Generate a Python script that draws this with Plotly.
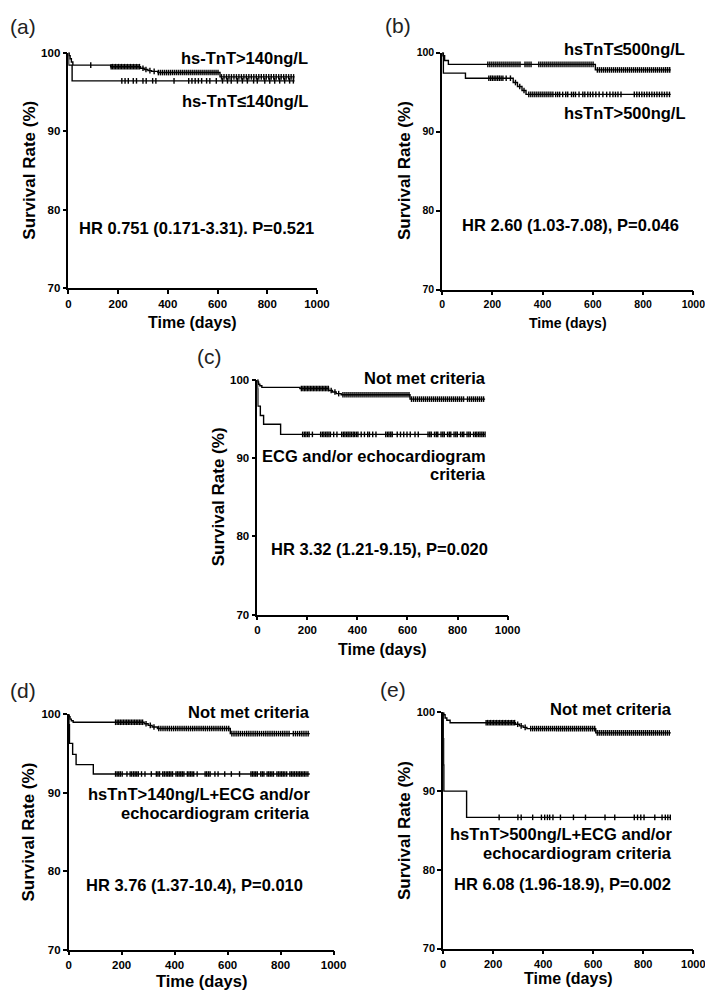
import plotly.graph_objects as go

FONT = "Liberation Sans, Arial, sans-serif"
W, H = 713, 992
FOLLOW_UP_END = 910

# ---- (a) hs-TnT >140 vs <=140 ng/L ----
A_HI_T = [0, 3, 7, 12, 18, 170, 290, 305, 320, 335, 360, 610]
A_HI_S = [100, 99.6, 99.2, 98.8, 98.4, 98.2, 98.0, 97.85, 97.7, 97.6, 97.45, 96.9]
A_HI_CENS = [90, 172, 178, 184, 190, 196, 202, 208, 214, 220, 226, 232, 238, 244, 250, 256,
             262, 268, 274, 280, 286, 300, 312, 328, 345, 362, 370, 378, 386, 394, 402, 410,
             418, 426, 434, 442, 450, 458, 466, 474, 482, 490, 498, 506, 514, 522, 530, 538,
             546, 554, 562, 570, 578, 586, 594, 602, 616, 626, 636, 646, 656, 666, 676, 686,
             696, 706, 716, 726, 736, 746, 756, 766, 776, 786, 796, 806, 816, 826, 836, 846,
             856, 866, 876, 886, 896, 906]
A_LO_T = [0, 1, 15]
A_LO_S = [100, 98.4, 96.4]
A_LO_CENS = [215, 228, 241, 261, 274, 300, 313, 339, 352, 425, 484, 497, 510, 523, 536, 556,
             569, 595, 620, 640, 655, 680, 700, 720, 745, 760, 790, 810, 830, 850, 870, 890, 905]

# ---- (b) hsTnT <=500 vs >500 ng/L ----
B_LO_T = [0, 3, 10, 25, 610]
B_LO_S = [100, 99.6, 99.0, 98.5, 97.8]
B_LO_CENS = [182, 190, 198, 206, 214, 222, 230, 238, 246, 254, 262, 270, 278, 286, 294, 302,
             310, 330, 338, 346, 354, 385, 393, 401, 409, 417, 425, 433, 441, 449, 457, 465,
             473, 481, 489, 497, 505, 513, 521, 529, 537, 545, 553, 561, 569, 577, 585, 593,
             601, 618, 626, 634, 642, 650, 658, 666, 674, 682, 690, 698, 706, 714, 722, 730,
             738, 746, 754, 762, 770, 778, 786, 794, 802, 810, 818, 826, 834, 842, 850, 858,
             866, 874, 882, 890, 898, 906]
B_HI_T = [0, 5, 93, 283, 300, 318, 334]
B_HI_S = [100, 97.4, 96.75, 96.2, 95.7, 95.2, 94.7]
B_HI_CENS = [186, 193, 200, 207, 214, 221, 228, 235, 242, 255, 272, 292, 309, 326, 345, 353,
             361, 369, 377, 385, 393, 401, 409, 417, 425, 433, 441, 452, 460, 468, 480, 492,
             500, 515, 523, 531, 545, 560, 568, 580, 590, 600, 612, 625, 640, 655, 668, 680,
             690, 700, 712, 765, 775, 785, 795, 805, 815, 825, 835, 845, 855, 865, 875, 885,
             895, 905]

# ---- (c) ECG and/or echocardiogram criteria ----
C_NOT_T = [0, 2, 5, 10, 18, 170, 285, 300, 315, 335, 610]
C_NOT_S = [100, 99.7, 99.4, 99.2, 99.0, 98.85, 98.6, 98.4, 98.2, 98.05, 97.5]
C_NOT_CENS = [176, 182, 188, 194, 200, 206, 212, 218, 224, 230, 236, 242, 248, 254, 260, 266,
              272, 278, 284, 295, 310, 325, 342, 350, 358, 366, 374, 382, 390, 398, 406, 414,
              422, 430, 438, 446, 454, 462, 470, 478, 486, 494, 502, 510, 518, 526, 534, 542,
              550, 558, 566, 574, 582, 590, 598, 606, 616, 624, 632, 640, 648, 656, 664, 672,
              680, 688, 696, 704, 712, 720, 728, 736, 744, 752, 760, 768, 776, 784, 792, 800,
              808, 816, 824, 840, 848, 856, 864, 872, 880, 888, 896, 904]
C_ECG_T = [0, 1, 2, 12, 25, 93]
C_ECG_S = [100, 98.8, 96.6, 95.4, 94.3, 93.0]
C_ECG_CENS = [181, 188, 194, 201, 207, 220, 253, 260, 266, 273, 279, 286, 292, 305, 318, 337,
              344, 350, 357, 363, 370, 376, 383, 389, 396, 402, 415, 428, 441, 448, 461, 474,
              513, 520, 526, 533, 539, 559, 572, 585, 598, 611, 630, 643, 682, 689, 695, 708,
              715, 721, 734, 741, 747, 760, 767, 773, 786, 793, 799, 812, 819, 825, 838, 845,
              851, 864, 871, 877, 884, 890, 897, 903, 910]

# ---- (d) hsTnT>140 + ECG and/or echo criteria ----
D_NOT_T = [0, 2, 5, 10, 17, 285, 300, 315, 335, 610]
D_NOT_S = [100, 99.7, 99.4, 99.2, 99.0, 98.8, 98.6, 98.4, 98.2, 97.55]
D_NOT_CENS = [177, 183, 189, 195, 201, 207, 213, 219, 225, 231, 237, 243, 249, 255, 261, 267,
              273, 279, 292, 308, 322, 340, 348, 356, 364, 372, 380, 388, 396, 404, 412, 420,
              428, 436, 444, 452, 460, 468, 476, 484, 492, 500, 508, 516, 524, 532, 540, 548,
              556, 564, 572, 580, 588, 596, 604, 616, 624, 632, 640, 648, 656, 664, 672, 680,
              688, 696, 704, 712, 720, 728, 736, 744, 752, 760, 768, 776, 784, 792, 800, 808,
              816, 824, 832, 848, 856, 864, 872, 880, 888, 896, 904]
D_HI_T = [0, 1, 3, 15, 28, 93]
D_HI_S = [100, 98.7, 96.3, 94.9, 93.6, 92.4]
D_HI_CENS = [177, 183, 189, 195, 202, 220, 232, 238, 245, 251, 257, 263, 275, 288, 312, 331,
             337, 343, 355, 361, 368, 374, 380, 386, 392, 405, 411, 417, 423, 429, 435, 448,
             454, 460, 466, 472, 485, 515, 521, 528, 534, 552, 564, 589, 614, 645, 688, 694,
             700, 706, 712, 725, 731, 737, 749, 755, 761, 767, 773, 786, 792, 798, 804, 810,
             816, 823, 835, 841, 847, 853, 860, 866, 872, 878, 884, 890, 896, 903]

# ---- (e) hsTnT>500 + ECG and/or echo criteria ----
E_NOT_T = [0, 3, 8, 15, 28, 289, 305, 320, 335, 610]
E_NOT_S = [100, 99.7, 99.3, 99.0, 98.7, 98.5, 98.3, 98.1, 97.95, 97.4]
E_NOT_CENS = [172, 178, 184, 190, 196, 202, 208, 214, 220, 226, 232, 238, 244, 250, 256, 262,
              268, 274, 280, 286, 298, 312, 328, 350, 358, 366, 374, 382, 390, 398, 406, 414,
              422, 430, 438, 446, 454, 462, 470, 478, 486, 494, 502, 510, 518, 526, 534, 542,
              550, 558, 566, 574, 582, 590, 598, 606, 616, 624, 632, 640, 648, 656, 664, 672,
              680, 688, 696, 704, 712, 720, 728, 736, 744, 752, 760, 768, 776, 784, 792, 800,
              808, 816, 824, 832, 840, 848, 856, 864, 872, 880, 888, 896, 904]
E_HI_T = [0, 1, 2, 3, 94]
E_HI_S = [100, 96.67, 93.33, 90.0, 86.67]
E_HI_CENS = [224, 299, 312, 358, 393, 406, 417, 426, 439, 469, 521, 569, 647, 686, 764, 777,
             790, 803, 846, 875, 888, 898, 908]

X_TICKS = [0, 200, 400, 600, 800, 1000]
Y_TICKS = [70, 80, 90, 100]
X_RANGE = [0, 1000]
Y_RANGE = [70, 100]


def level_at(ts, ss, t):
    v = ss[0]
    for ti, si in zip(ts, ss):
        if ti <= t:
            v = si
    return v


def fx(px):
    return px / W


def fy(py):
    return 1 - py / H


# panel layout in pixels: axis box (x0, y_top, x1, y_bottom)
PANELS = [
    dict(tag="(a)", tag_xy=(12, 13), box=(58.7, 39, 313, 277.7),
         curves=[(A_HI_T, A_HI_S, A_HI_CENS), (A_LO_T, A_LO_S, A_LO_CENS)],
         notes=[("hs-TnT>140ng/L", 973, 99.25, "right"),
                ("hs-TnT≤140ng/L", 973, 93.8, "right"),
                ("HR 0.751 (0.171-3.31). P=0.521", 517, 77.7, "center")],
         ytitle_xy=(18, 158), xtitle_xy=(186, 312), xtitle_size=16, tick_size=11.5),
    dict(tag="(b)", tag_xy=(396, 12), box=(441, 39, 698, 279),
         curves=[(B_LO_T, B_LO_S, B_LO_CENS), (B_HI_T, B_HI_S, B_HI_CENS)],
         notes=[("hsTnT≤500ng/L", 975, 100.5, "right"),
                ("hsTnT>500ng/L", 975, 92.4, "right"),
                ("HR 2.60 (1.03-7.08), P=0.046", 512, 78.2, "center")],
         ytitle_xy=(402, 158), xtitle_xy=(570, 313), xtitle_size=14, tick_size=10.5),
    dict(tag="(c)", tag_xy=(203, 347), box=(252, 370, 508, 608),
         curves=[(C_NOT_T, C_NOT_S, C_NOT_CENS), (C_ECG_T, C_ECG_S, C_ECG_CENS)],
         notes=[("Not met criteria", 922, 100.25, "right"),
                ("ECG and/or echocardiogram", 922, 90.25, "right"),
                ("criteria", 922, 87.9, "right"),
                ("HR 3.32 (1.21-9.15), P=0.020", 487, 78.35, "center")],
         ytitle_xy=(212, 489), xtitle_xy=(380, 643), xtitle_size=16, tick_size=11.5),
    dict(tag="(d)", tag_xy=(12, 685), box=(59, 709, 330, 947),
         curves=[(D_NOT_T, D_NOT_S, D_NOT_CENS), (D_HI_T, D_HI_S, D_HI_CENS)],
         notes=[("Not met criteria", 920, 100.3, "right"),
                ("hsTnT>140ng/L+ECG and/or", 920, 89.85, "right"),
                ("echocardiogram criteria", 920, 87.45, "right"),
                ("HR 3.76 (1.37-10.4), P=0.010", 474, 78.2, "center")],
         ytitle_xy=(18, 828), xtitle_xy=(195, 979), xtitle_size=16.5, tick_size=11.5),
    dict(tag="(e)", tag_xy=(391, 684), box=(442, 707, 698, 946),
         curves=[(E_NOT_T, E_NOT_S, E_NOT_CENS), (E_HI_T, E_HI_S, E_HI_CENS)],
         notes=[("Not met criteria", 923, 100.46, "right"),
                ("hsTnT>500ng/L+ECG and/or", 923, 84.55, "right"),
                ("echocardiogram criteria", 923, 82.15, "right"),
                ("HR 6.08 (1.96-18.9), P=0.002", 477, 78.2, "center")],
         ytitle_xy=(402, 826), xtitle_xy=(570, 976), xtitle_size=16, tick_size=11),
]

fig = go.Figure()
annotations = []
layout = {}

for i, p in enumerate(PANELS):
    n = "" if i == 0 else str(i + 1)
    xa, ya = "x" + n, "y" + n
    x0, yt, x1, yb = p["box"]

    for ts, ss, cens in p["curves"]:
        fig.add_trace(go.Scatter(
            x=ts + [FOLLOW_UP_END], y=ss + [ss[-1]],
            mode="lines", line=dict(color="black", width=1.4, shape="hv"),
            xaxis=xa, yaxis=ya, showlegend=False, hoverinfo="skip"))
        fig.add_trace(go.Scatter(
            x=cens, y=[level_at(ts, ss, t) for t in cens],
            mode="markers",
            marker=dict(symbol="line-ns", size=4, color="black",
                        line=dict(color="black", width=1.4)),
            xaxis=xa, yaxis=ya, showlegend=False, cliponaxis=False))

    axis_style = dict(showline=True, linecolor="black", linewidth=1.6, ticks="outside",
                      ticklen=4, tickwidth=1.6, tickcolor="black", showgrid=False,
                      zeroline=False,
                      tickfont=dict(family=FONT, size=p["tick_size"], color="black",
                                    weight="bold"))
    layout["xaxis" + n] = dict(axis_style, domain=[fx(x0), fx(x1)], range=X_RANGE,
                               tickvals=X_TICKS, anchor=ya)
    layout["yaxis" + n] = dict(axis_style, domain=[fy(yb), fy(yt)], range=Y_RANGE,
                               tickvals=Y_TICKS, anchor=xa)

    # notes are given in data units but placed on the paper so they may sit above 100%
    for text, x, y, align in p["notes"]:
        px = x0 + (x - X_RANGE[0]) / (X_RANGE[1] - X_RANGE[0]) * (x1 - x0)
        py = yb - (y - Y_RANGE[0]) / (Y_RANGE[1] - Y_RANGE[0]) * (yb - yt)
        annotations.append(dict(text=f"<b>{text}</b>", x=fx(px), y=fy(py),
                                xref="paper", yref="paper",
                                xanchor=align, yanchor="middle", showarrow=False,
                                font=dict(family=FONT, size=16.5, color="black")))

    tx, ty = p["tag_xy"]
    annotations.append(dict(text=p["tag"], x=fx(tx), y=fy(ty), xref="paper", yref="paper",
                            xanchor="center", yanchor="middle", showarrow=False,
                            font=dict(family=FONT, size=21, color="#222")))
    yx, yy = p["ytitle_xy"]
    annotations.append(dict(text="<b>Survival Rate (%)</b>", x=fx(yx), y=fy(yy),
                            xref="paper", yref="paper", textangle=-90,
                            xanchor="center", yanchor="middle", showarrow=False,
                            font=dict(family=FONT, size=17, color="black")))
    tx2, ty2 = p["xtitle_xy"]
    annotations.append(dict(text="<b>Time (days)</b>", x=fx(tx2), y=fy(ty2),
                            xref="paper", yref="paper",
                            xanchor="center", yanchor="middle", showarrow=False,
                            font=dict(family=FONT, size=p["xtitle_size"], color="black")))

fig.update_layout(
    width=W, height=H, margin=dict(l=0, r=0, t=0, b=0),
    paper_bgcolor="white", plot_bgcolor="white",
    annotations=annotations, **layout)

fig.write_html("out.html")
